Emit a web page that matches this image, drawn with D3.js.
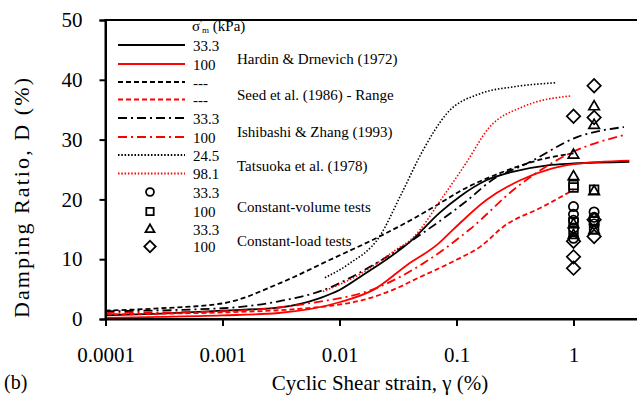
<!DOCTYPE html>
<html>
<head>
<meta charset="utf-8">
<script src="https://cdn.jsdelivr.net/npm/d3@7"></script>
<style>
    body { margin: 0; background: #fff; }
    text { font-family: "Liberation Serif", "Times New Roman", serif; fill: #000; }
</style>
</head>
<body>
<svg id="chart" width="637" height="395"></svg>
<script>
(function () {

    // ---- data (strain in %, damping in %) ----
    var xTicks = [0.0001, 0.001, 0.01, 0.1, 1];
    var xTickLabels = ["0.0001", "0.001", "0.01", "0.1", "1"];
    var yTicks = [0, 10, 20, 30, 40, 50];

    var hardin33 = [[0.0001, 0.6], [0.0003, 0.9], [0.001, 1.4], [0.003, 1.9], [0.0068, 3.5], [0.01, 4.85],
        [0.016, 7.4], [0.025, 9.9], [0.04, 12.9], [0.072, 17.8], [0.107, 20.5], [0.18, 23.2],
        [0.3, 24.6], [0.6, 25.7], [1, 26.0], [3, 26.3]];
    var hardin100 = [[0.0001, 0.2], [0.0003, 0.35], [0.001, 0.6], [0.003, 1.0], [0.01, 2.8], [0.02, 5.0],
        [0.0376, 9.0], [0.07, 12.6], [0.093, 14.9], [0.18, 19.9], [0.35, 23.2], [0.66, 25.2],
        [1, 25.9], [3, 26.5]];
    var seedUpper = [[0.0001, 1.4], [0.0003, 1.8], [0.001, 2.6], [0.0031, 6.0], [0.0083, 9.9], [0.022, 13.8],
        [0.043, 16.8], [0.07, 19.2], [0.11, 21.5], [0.235, 24.4], [0.59, 26.9], [1, 27.7]];
    var seedLower = [[0.0001, 0.8], [0.001, 1.1], [0.0083, 2.2], [0.016, 3.2], [0.033, 5.4], [0.043, 6.5],
        [0.1, 9.9], [0.16, 12.1], [0.25, 15.4], [0.55, 18.8], [1, 21.6]];
    var ishibashi33 = [[0.0001, 1.3], [0.001, 1.8], [0.0031, 3.0], [0.0072, 4.8], [0.0193, 9.0], [0.0517, 14.4],
        [0.123, 19.8], [0.2, 23.2], [0.4, 26.0], [1.1, 30.5], [2.7, 32.1]];
    var ishibashi100 = [[0.0001, 1.0], [0.001, 1.3], [0.005, 2.5], [0.022, 5.4], [0.052, 9.3], [0.13, 15.0],
        [0.33, 22.1], [0.93, 27.7], [2.76, 30.8]];
    var tatsuoka245 = [[0.0075, 6.9], [0.012, 9.2], [0.022, 13.8], [0.033, 20.5], [0.052, 28.3], [0.083, 34.4],
        [0.16, 37.7], [0.3, 38.8], [0.7, 39.5]];
    var tatsuoka981 = [[0.0072, 4.6], [0.015, 7.5], [0.03, 11.5], [0.042, 13.5], [0.077, 20.5], [0.12, 26.0],
        [0.19, 32.0], [0.37, 35.5], [0.95, 37.3]];

    var cvCircle = [[1, 18.8], [1, 17.5], [1, 16.5], [1, 15.2], [1, 13.5], [1.5, 17.9], [1.5, 17.0], [1.5, 15.9]];
    var cvSquare = [[1, 22.4], [1, 22.0], [1, 16.2], [1, 14.6], [1.5, 21.6], [1.5, 16.3], [1.5, 15.0]];
    var clTriangle = [[1, 27.4], [1, 23.8], [1, 15.8], [1, 14.0], [1.5, 35.5], [1.5, 32.4], [1.5, 21.3], [1.5, 14.8]];
    var clDiamond = [[1, 33.9], [1, 13.0], [1, 10.4], [1, 8.5], [1.5, 39.0], [1.5, 33.7], [1.5, 16.6], [1.5, 13.8]];

    var lineSeries = [
        { data: hardin33, color: "#000", dash: null, label: "33.3" },
        { data: hardin100, color: "#f00", dash: null, label: "100" },
        { data: seedUpper, color: "#000", dash: "5,3", label: "---" },
        { data: seedLower, color: "#f00", dash: "5,3", label: "---" },
        { data: ishibashi33, color: "#000", dash: "9,4,2,4", label: "33.3" },
        { data: ishibashi100, color: "#f00", dash: "9,4,2,4", label: "100" },
        { data: tatsuoka245, color: "#000", dash: "1.5,1.8", label: "24.5" },
        { data: tatsuoka981, color: "#f00", dash: "1.5,1.8", label: "98.1" }
    ];
    var markerSeries = [
        { data: cvCircle, shape: "circle", label: "33.3" },
        { data: cvSquare, shape: "square", label: "100" },
        { data: clTriangle, shape: "triangle", label: "33.3" },
        { data: clDiamond, shape: "diamond", label: "100" }
    ];
    var groupLabels = ["Hardin & Drnevich (1972)", "Seed et al. (1986) - Range",
        "Ishibashi & Zhang (1993)", "Tatsuoka et al. (1978)",
        "Constant-volume tests", "Constant-load tests"];

    // ---- layout ----
    var svg = d3.select("#chart");
    var x = d3.scaleLog().domain([0.0001, 10]).range([105.5, 690.5]);
    var y = d3.scaleLinear().domain([0, 50]).range([319, 20]);

    // frame (right side is cut off by the picture edge)
    svg.append("rect")
        .attr("x", x(0.0001)).attr("y", y(50))
        .attr("width", x(10) - x(0.0001)).attr("height", y(0) - y(50))
        .attr("fill", "none").attr("stroke", "#000").attr("stroke-width", 2);

    var line = d3.line()
        .x(function (d) { return x(d[0]); })
        .y(function (d) { return y(d[1]); })
        .curve(d3.curveMonotoneX);

    lineSeries.forEach(function (s) {
        svg.append("path")
            .attr("d", line(s.data))
            .attr("fill", "none")
            .attr("stroke", s.color)
            .attr("stroke-width", s.dash === "1.5,1.8" ? 1.6 : 1.8)
            .attr("stroke-dasharray", s.dash);
    });

    function markerPath(shape, scale) {
        if (shape === "circle") return d3.symbol(d3.symbolCircle, 68 * scale * scale)();
        if (shape === "square") return d3.symbol(d3.symbolSquare, 76 * scale * scale)();
        if (shape === "triangle") return d3.symbol(d3.symbolTriangle, 48 * scale * scale)();
        return d3.symbol(d3.symbolSquare, 90 * scale * scale)();
    }

    markerSeries.forEach(function (s) {
        svg.append("g").selectAll("path")
            .data(s.data)
            .enter().append("path")
            .attr("d", markerPath(s.shape, 1))
            .attr("transform", function (d) {
                return "translate(" + x(d[0]) + "," + y(d[1]) + ")" + (s.shape === "diamond" ? " rotate(45)" : "");
            })
            .attr("fill", "none")
            .attr("stroke", "#000")
            .attr("stroke-width", 1.7);
    });

    // ---- axes ----
    var xAxis = svg.append("g")
        .attr("transform", "translate(0," + y(0) + ")")
        .call(d3.axisBottom(x).tickValues(xTicks)
            .tickFormat(function (d, i) { return xTickLabels[i]; })
            .tickSize(7).tickPadding(21));
    var yAxis = svg.append("g")
        .attr("transform", "translate(" + x(0.0001) + ",0)")
        .call(d3.axisLeft(y).tickValues(yTicks).tickSize(6).tickPadding(17));

    [xAxis, yAxis].forEach(function (g) {
        g.select(".domain").attr("stroke-width", 2);
        g.selectAll(".tick line").attr("stroke-width", 2);
        g.selectAll("text").style("font-size", "21px").attr("font-family", null);
    });

    svg.append("text")
        .attr("x", 380).attr("y", 390)
        .attr("text-anchor", "middle")
        .style("font-size", "21px")
        .text("Cyclic Shear strain, \u03b3 (%)");
    svg.append("text")
        .attr("transform", "translate(29,198) rotate(-90)")
        .attr("text-anchor", "middle")
        .attr("textLength", 240)
        .attr("lengthAdjust", "spacing")
        .style("font-size", "22px")
        .text("Damping Ratio, D (%)");
    svg.append("text")
        .attr("x", 4).attr("y", 389)
        .style("font-size", "20px")
        .text("(b)");

    // ---- legend ----
    var leg = svg.append("g").style("font-size", "15px");
    var head = leg.append("text").attr("x", 192).attr("y", 31);
    head.append("tspan").text("\u03c3");
    head.append("tspan").attr("dy", -4).style("font-size", "11px").text("'");
    head.append("tspan").attr("dy", 6).style("font-size", "9px").text("m");
    head.append("tspan").attr("dy", -2).text(" (kPa)");

    var lineRows = [45, 64, 82, 99.5, 118, 137, 155, 173.5];
    lineSeries.forEach(function (s, i) {
        leg.append("line")
            .attr("x1", 118).attr("x2", 185)
            .attr("y1", lineRows[i]).attr("y2", lineRows[i])
            .attr("stroke", s.color)
            .attr("stroke-width", 1.8)
            .attr("stroke-dasharray", s.dash);
        leg.append("text").attr("x", 193).attr("y", lineRows[i] + 5.5).text(s.label);
    });

    var markerRows = [192, 211.5, 229.5, 246.5];
    markerSeries.forEach(function (s, i) {
        leg.append("path")
            .attr("d", markerPath(s.shape, 0.85))
            .attr("transform", "translate(150," + markerRows[i] + ")" + (s.shape === "diamond" ? " rotate(45)" : ""))
            .attr("fill", "none").attr("stroke", "#000").attr("stroke-width", 1.8);
        leg.append("text").attr("x", 193).attr("y", markerRows[i] + 5.5).text(s.label);
    });

    var groupRows = [58.5, 94.5, 131.5, 165.5, 206, 240];
    groupLabels.forEach(function (t, i) {
        leg.append("text").attr("x", 237).attr("y", groupRows[i] + 5.5).text(t);
    });

})();
</script>
</body>
</html>
